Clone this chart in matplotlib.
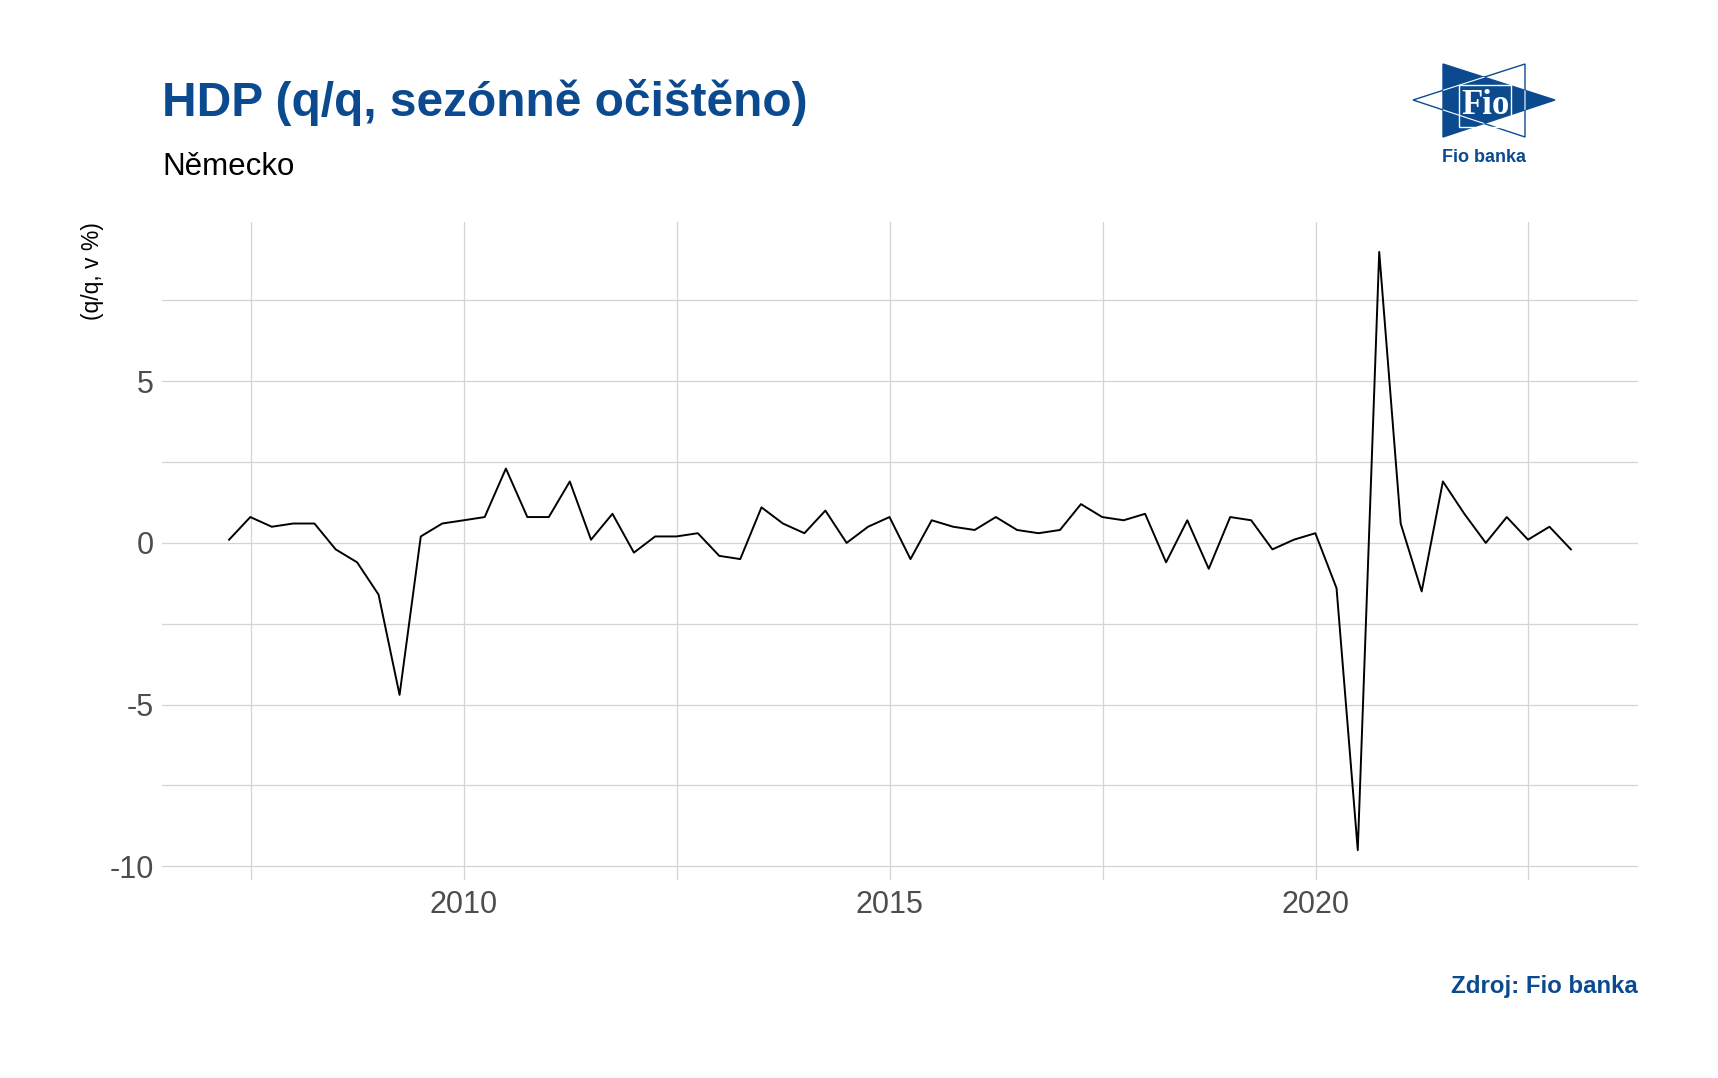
import numpy as np
import pandas as pd
import matplotlib
matplotlib.use("Agg")
import matplotlib.pyplot as plt
import matplotlib.dates as mdates
from matplotlib.patches import Polygon, Rectangle

plt.rcParams['font.family'] = ['Liberation Sans', 'DejaVu Sans']
plt.rcParams['axes.unicode_minus'] = False

# quarterly GDP growth, Germany (q/q, seasonally adjusted), 2007Q1 .. 2022Q4
start_quarter = "2007-03-31"
gdp_qq = [0.1, 0.8, 0.5, 0.6,
          0.6, -0.2, -0.6, -1.6,
          -4.7, 0.2, 0.6, 0.7,
          0.8, 2.3, 0.8, 0.8,
          1.9, 0.1, 0.9, -0.3,
          0.2, 0.2, 0.3, -0.4,
          -0.5, 1.1, 0.6, 0.3,
          1.0, 0.0, 0.5, 0.8,
          -0.5, 0.7, 0.5, 0.4,
          0.8, 0.4, 0.3, 0.4,
          1.2, 0.8, 0.7, 0.9,
          -0.6, 0.7, -0.8, 0.8,
          0.7, -0.2, 0.1, 0.3,
          -1.4, -9.5, 9.0, 0.6,
          -1.5, 1.9, 0.9, 0.0,
          0.8, 0.1, 0.5, -0.2]
major_years = ["2010-01-01", "2015-01-01", "2020-01-01"]
minor_years = ["2007-07-02", "2012-07-02", "2017-07-02", "2022-07-02"]
y_major = [-10, -5, 0, 5]
y_minor = [-7.5, -2.5, 2.5, 7.5]

title = "HDP (q/q, sezónně očištěno)"
subtitle = "Německo"
ylabel = "(q/q, v %)"
source = "Zdroj: Fio banka"

BLUE = "#0B4A8F"
GRID = "#D4D4D4"
W, H = 1718, 1078

dates = pd.date_range(start_quarter, periods=len(gdp_qq), freq="QE")

fig = plt.figure(figsize=(W / 100, H / 100), dpi=100)
ax = fig.add_axes([162 / W, 1 - 880 / H, (1638 - 162) / W, (880 - 222) / H])

ax.plot(dates, gdp_qq, color="black", lw=1.4)

# ggplot-like 5% expansion
span = dates[-1] - dates[0]
ax.set_xlim(dates[0] - span * 0.05, dates[-1] + span * 0.05)
yr = max(gdp_qq) - min(gdp_qq)
ax.set_ylim(min(gdp_qq) - 0.05 * yr, max(gdp_qq) + 0.05 * yr)

ax.set_xticks(pd.to_datetime(major_years))
ax.set_xticks(pd.to_datetime(minor_years), minor=True)
ax.xaxis.set_major_formatter(mdates.DateFormatter("%Y"))
ax.set_yticks(y_major)
ax.set_yticks(y_minor, minor=True)

ax.grid(True, which="both", color=GRID, lw=0.9)
ax.set_axisbelow(True)
for s in ax.spines.values():
    s.set_visible(False)
ax.tick_params(which="both", length=0)
ax.tick_params(axis="x", labelsize=22, colors="#4D4D4D", pad=7)
ax.tick_params(axis="y", labelsize=22, colors="#4D4D4D", pad=6)

fig.text(162 / W, 1 - 102 / H, title, fontsize=34.5, fontweight="bold",
         color=BLUE, ha="left", va="center")
fig.text(162 / W, 1 - 167 / H, subtitle, fontsize=22.5, color="black",
         ha="left", va="center")
fig.text(92 / W, 1 - 222 / H, ylabel, fontsize=16.5, rotation=90,
         ha="center", va="top", color="black")
fig.text(1638 / W, 1 - 986 / H, source, fontsize=17.3, fontweight="bold",
         color=BLUE, ha="right", va="center")

# logo
lg = fig.add_axes([1400 / W, 1 - 170 / H, 170 / W, 115 / H])
lg.set_xlim(1400, 1570)
lg.set_ylim(170, 55)
lg.axis("off")
left_tri = [(1525, 64), (1525, 137), (1413, 100)]
right_tri = [(1443, 64), (1443, 137), (1555, 100)]
lg.add_patch(Polygon(left_tri, closed=True, fill=False, ec=BLUE, lw=1.0))
blue = Polygon(right_tri, closed=True, fc=BLUE, ec=BLUE, lw=1.0)
lg.add_patch(blue)
inner = Polygon(left_tri, closed=True, fill=False, ec="white", lw=0.8)
lg.add_patch(inner)
inner.set_clip_path(blue)
lg.add_patch(Rectangle((1459, 85), 52, 42, fill=False, ec="white", lw=1.0))
lg.text(1485, 106, "Fio", fontsize=25, color="white", family="Liberation Serif",
        fontweight="bold", ha="center", va="center")
lg.text(1484, 157, "Fio banka", fontsize=13, fontweight="bold", color=BLUE,
        ha="center", va="center")

fig.savefig("out.png", dpi=100, facecolor="white")
